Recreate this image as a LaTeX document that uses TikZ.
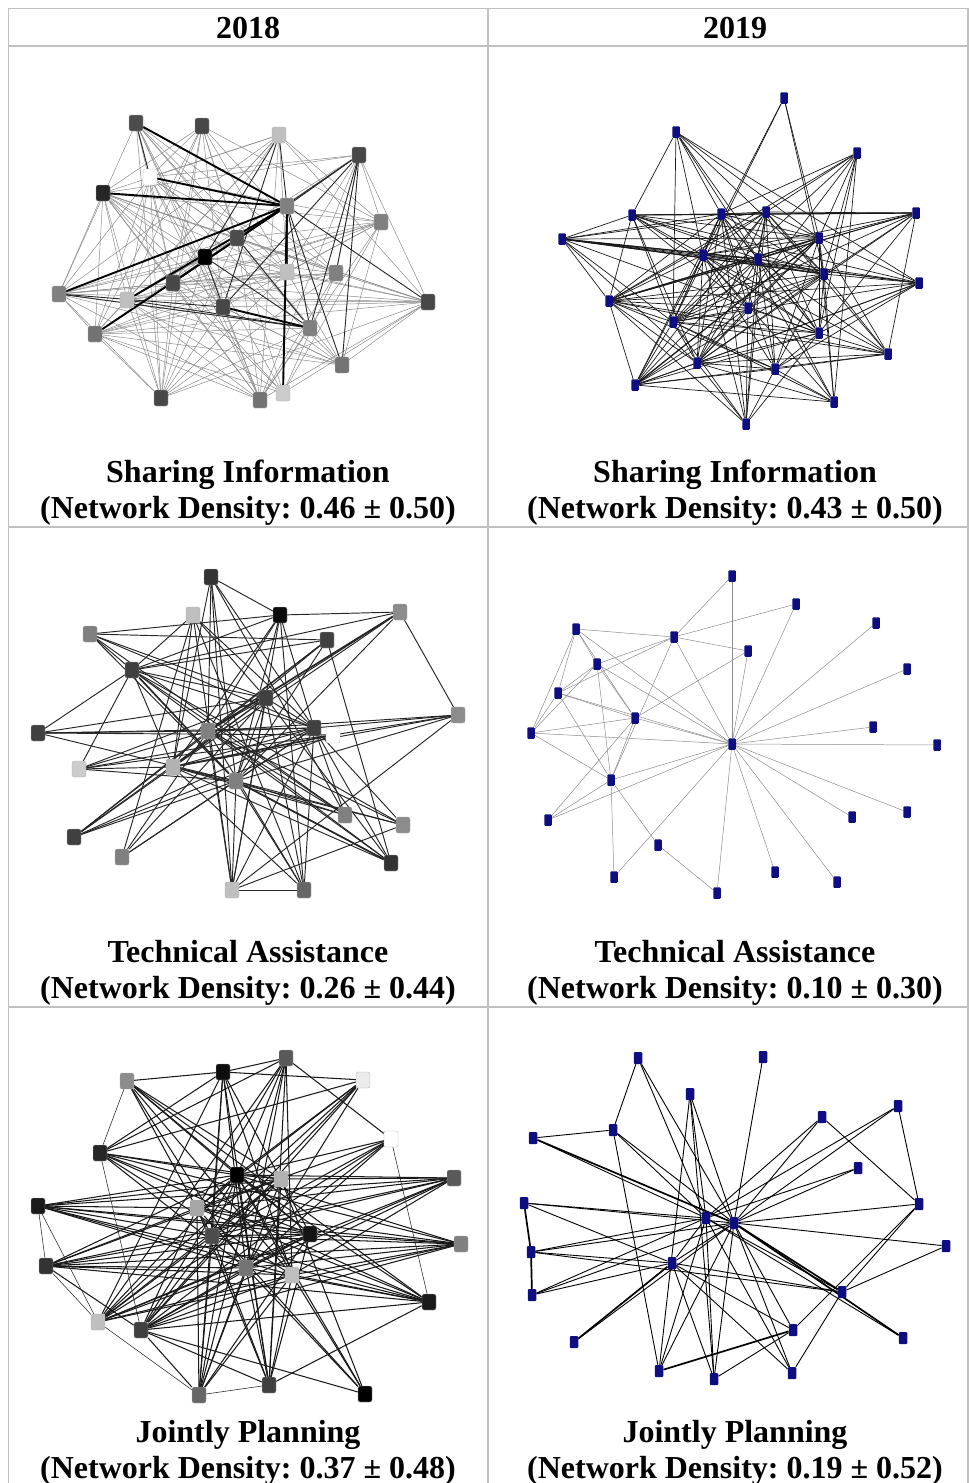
\documentclass[tikz,border=0pt]{standalone}
\usepackage{fontspec}
\setmainfont{Liberation Serif}
\frenchspacing
\definecolor{navyblue}{RGB}{14,14,128}
\definecolor{rulegray}{RGB}{192,192,192}
\pgfdeclarelayer{edges}
\pgfsetlayers{edges,main}
\tikzset{
  gnode/.style={rectangle, rounded corners=2pt, draw=black!30, line width=0.3pt,
    minimum width=14pt, minimum height=16pt, inner sep=0pt},
  bnode/.style={rectangle, rounded corners=1pt, fill=navyblue,
    minimum width=7.5pt, minimum height=11.5pt, inner sep=0pt},
  lite/.style={draw=black!45, line width=0.5pt},
  dark/.style={draw=black!85, line width=0.9pt},
  heavy/.style={draw=black, line width=1.9pt},
  blink/.style={draw=black!90, line width=0.7pt},
  glink/.style={draw=black!45, line width=0.5pt},
  head/.style={font=\bfseries\fontsize{32}{37}\selectfont, anchor=base, inner sep=0pt},
  rule/.style={draw=rulegray, line width=1.5pt}
}
\begin{document}
\begin{tikzpicture}[x=1pt, y=-1pt]
  \useasboundingbox (0,0) rectangle (969,1483);
  % table
  \draw[rule] (8.5,1483) -- (8.5,8.5) -- (968,8.5) -- (968,1483);
  \draw[rule] (8.5,46) -- (968,46);
  \draw[rule] (8.5,527) -- (968,527);
  \draw[rule] (8.5,1007) -- (968,1007);
  \draw[rule] (488,8.5) -- (488,1483);
  \node[head] (y18) at (248,38) {2018};
  \node[head] (y19) at (735,38) {2019};
  \node[head] (si18) at (248,482) {Sharing Information};
  \node[head] (sd18) at (248,518) {(Network Density: 0.46 ± 0.50)};
  \node[head] (si19) at (735,482) {Sharing Information};
  \node[head] (sd19) at (735,518) {(Network Density: 0.43 ± 0.50)};
  \node[head] (ta18) at (248,962) {Technical Assistance};
  \node[head] (td18) at (248,998) {(Network Density: 0.26 ± 0.44)};
  \node[head] (ta19) at (735,962) {Technical Assistance};
  \node[head] (td19) at (735,998) {(Network Density: 0.10 ± 0.30)};
  \node[head] (jp18) at (248,1442) {Jointly Planning};
  \node[head] (jd18) at (248,1478) {(Network Density: 0.37 ± 0.48)};
  \node[head] (jp19) at (735,1442) {Jointly Planning};
  \node[head] (jd19) at (735,1478) {(Network Density: 0.19 ± 0.52)};

  % 2018 sharing information
  \foreach \n/\x/\y/\g in {1/136/123/70, 2/202/126/72, 3/279/135/25, 4/359/155/72,
      5/150/177/0, 6/103/193/85, 7/287/206/50, 8/381/222/50, 9/237/238/70,
      10/205/257/100, 11/287/272/25, 12/336/273/50, 13/173/283/72, 14/59/294/50,
      15/127/300/25, 16/223/307/72, 17/428/302/72, 18/310/328/50, 19/95/334/55,
      20/342/365/55, 21/161/398/72, 22/260/400/55, 23/283/393/20}
    \node[gnode, fill=black!\g] (a\n) at (\x,\y) {};
  \begin{pgfonlayer}{edges}
    \foreach \s/\tl in {1/{5,9,10,11,12,13,14,16,18,21,22}, 2/{5,6,8,9,11,12,13,15,16,19,21,23},
        3/{5,6,8,11,13,14,15,17,19,22}, 4/{5,6,8,9,11,12,15,17,19,22},
        5/{8,9,11,12,13,14,15,16,19,20,21,22}, 6/{8,9,10,11,12,13,14,15,16,17,19,20,21,22,23},
        8/{9,11,13,14,15,16,19,20,22,23}, 9/{12,13,14,15,17,19,20,21,22},
        10/{12,14,15,17,19,21,22,23}, 11/{13,14,15,17,19,20,21}, 12/{13,14,15,17,19,21,22,23},
        13/{14,17,20,21,22,23}, 14/{17,18,19,20,21,22}, 15/{17,19,20,21,22,23},
        16/{17,19,20,21,22}, 17/{19,20,21,22,23}, 18/{19,21,22}, 19/{20,21,22,23}}
      \foreach \t in \tl \draw[lite] (a\s) -- (a\t);
    \foreach \s/\tl in {4/{7,16,18,20,13,12}, 3/{7,16,10}, 10/{16,18}, 9/{18},
        7/{18,20,11,13,17}, 15/{18}, 14/{16,18}, 1/{5}}
      \foreach \t in \tl \draw[dark] (a\s) -- (a\t);
    \foreach \s/\tl in {7/{14,19,15,23,1,6,5}, 16/{18}}
      \foreach \t in \tl \draw[heavy] (a\s) -- (a\t);
  \end{pgfonlayer}

  % 2019 sharing information
  \foreach \n/\x/\y in {1/784/98, 2/676/132, 3/857/153, 4/632/215, 5/721/214, 6/766/212,
      7/916/213, 8/562/239, 9/819/238, 10/703/255, 11/758/259, 12/824/274, 13/919/283,
      14/609/301, 15/748/308, 16/673/322, 17/819/333, 18/888/354, 19/697/363,
      20/775/369, 21/635/385, 22/834/402, 23/746/424}
    \node[bnode] (b\n) at (\x,\y) {};
  \begin{pgfonlayer}{edges}
    \foreach \s/\tl in {1/{10,16,9,12}, 2/{4,16,5,10,11,9,12,17,13}, 3/{5,6,14,16,19,9,12,17,22},
        4/{5,8,9,10,11,12,13,14,16,17,19,15}, 5/{6,7,8,9,10,11,12,14,15,16,17,19,20,21,22,23},
        6/{7,8,9,10,11,12,14,15,16,17,18,19,20,21,23}, 7/{9,10,11,12,14,16,17,18,19},
        8/{9,10,11,12,14,16,19,13,17}, 9/{10,11,12,14,15,16,17,19,20,21,22,13,18},
        10/{11,12,13,14,15,16,17,18,19,20,21,22,23}, 11/{12,13,14,16,17,18,19,20,21,22,23},
        12/{14,15,16,17,18,19,20,21,22,13}, 13/{14,16,17,19,20,21}, 14/{15,16,17,18,19,20,21,23},
        15/{16,17,19,21,23}, 16/{17,18,19,20,21,22,23}, 17/{18,19,20,21,23}, 18/{19,20,21},
        19/{20,21,22,23}, 20/{21,22,23}, 21/{22}}
      \foreach \t in \tl \draw[blink] (b\s) -- (b\t);
    \foreach \s/\tl in {4/{7}, 8/{11,12}, 14/{9}, 21/{9}}
      \foreach \t in \tl \draw[blink, line width=1.2pt] (b\s) -- (b\t);
  \end{pgfonlayer}

  % 2018 technical assistance
  \foreach \n/\x/\y/\g in {1/211/577/80, 2/193/615/25, 3/280/615/95, 4/400/612/45,
      5/90/634/50, 6/327/640/75, 7/132/670/75, 8/266/698/75, 9/458/715/45,
      10/38/733/75, 11/208/731/50, 12/314/728/75, 13/333/735/0, 14/79/769/20,
      15/173/767/30, 16/236/781/50, 17/345/815/50, 18/403/825/45, 19/74/837/75,
      20/122/857/50, 21/391/863/80, 22/232/890/25, 23/304/890/60}
    \node[gnode, fill=black!\g] (c\n) at (\x,\y) {};
  \begin{pgfonlayer}{edges}
    \foreach \s/\tl in {1/{3,11,15,16,22,12,17}, 2/{7,15,22,12,8,20,23}, 3/{4,5,7,11,15,16,22,23,12},
        4/{9,8,15,7,16}, 5/{7,8,12,17,16,6}, 6/{7,11,15,19,21,16},
        7/{8,10,12,14,17,18,21,15}, 8/{10,15,19,20,22,23,12,11,16,14,21},
        9/{11,12,13,15,16,22}, 10/{11,12,16,13}, 11/{12,14,19,20,17,18,21,23,22},
        12/{14,15,16,19,20,22,18,23,17,21}, 13/{14,19}, 14/{15,16},
        15/{16,17,18,21,19,23}, 16/{17,18,21,19,20,23,22}, 22/{23,18}}
      \foreach \t in \tl \draw[dark, line width=0.95pt] (c\s) -- (c\t);
    \foreach \s/\tl in {4/{11}, 7/{16}, 15/{13}, 16/{21}}
      \foreach \t in \tl \draw[dark, line width=1.7pt] (c\s) -- (c\t);
  \end{pgfonlayer}

  % 2019 technical assistance
  \foreach \n/\x/\y in {1/732/576, 2/796/604, 3/876/623, 4/576/629, 5/674/637, 6/748/651,
      7/907/669, 8/597/664, 9/558/693, 10/635/718, 11/873/727, 12/531/733, 13/732/744,
      14/937/745, 15/611/780, 16/548/820, 17/907/812, 18/852/817, 19/658/845,
      20/614/877, 21/775/872, 22/837/882, 23/717/893}
    \node[bnode] (d\n) at (\x,\y) {};
  \begin{pgfonlayer}{edges}
    \foreach \s/\tl in {13/{1,2,3,4,5,6,7,8,9,10,11,12,14,15,16,17,18,20,21,22,23},
        5/{1,2,6,4,8,9,15}, 4/{8,9,12,10}, 6/{10}, 8/{9,12,10,15}, 9/{12,10,15},
        10/{16,15}, 12/{10,15}, 15/{16,19,20}, 19/{23}}
      \foreach \t in \tl \draw[glink] (d\s) -- (d\t);
  \end{pgfonlayer}

  % 2018 jointly planning
  \foreach \n/\x/\y/\g in {1/286/1058/65, 2/223/1072/95, 3/127/1081/45, 4/363/1080/8,
      5/391/1139/0, 6/100/1153/85, 7/237/1175/100, 8/281/1179/30, 9/454/1178/65,
      10/38/1206/90, 11/197/1208/35, 12/212/1236/70, 13/310/1234/92, 14/461/1244/50,
      15/46/1266/80, 16/246/1268/55, 17/292/1275/25, 18/429/1302/90, 19/98/1322/25,
      20/141/1330/75, 21/199/1395/60, 22/269/1385/75, 23/365/1394/100}
    \node[gnode, fill=black!\g] (e\n) at (\x,\y) {};
  \begin{pgfonlayer}{edges}
    \foreach \s/\tl in {1/{2,5,6,11,12,16,17,19,21,22}, 2/{3,4,13,16,17,21,22,12,6,19},
        3/{7,13,16,17,18,12,8}, 4/{6,7,11,12,19,20,16}, 5/{7,11,12,19,20,16},
        6/{7,8,13,14,17,18,16}, 7/{9,10,14,15,18,19,20,21,22,23,17,13,8,11},
        8/{9,10,15,19,20,21,22,12,23}, 9/{10,11,12,15,16,17,19,20},
        10/{11,12,13,14,16,17,18}, 11/{13,14,15,18,20,21,22,23},
        12/{13,14,15,18,19,20,21,22}, 13/{14,15,16,19,20,21,22}, 14/{15,16,17,19,20},
        15/{16,17,18,20}, 16/{18,19,20,21,22,23}, 17/{18,19,20,21,22,23},
        18/{20,22}, 20/{21,22,23}}
      \foreach \t in \tl \draw[dark, draw=black!90, line width=1.05pt] (e\s) -- (e\t);
    \foreach \s/\tl in {3/{6}, 6/{20}, 10/{15,19}, 15/{19}, 5/{18}, 19/{21}, 21/{22}}
      \foreach \t in \tl \draw[dark, line width=0.55pt] (e\s) -- (e\t);
  \end{pgfonlayer}

  % 2019 jointly planning
  \foreach \n/\x/\y in {1/638/1058, 2/763/1057, 3/690/1094, 4/898/1106, 5/822/1117,
      6/533/1138, 7/613/1130, 8/858/1168, 9/524/1203, 10/919/1204, 11/706/1218,
      12/734/1223, 13/531/1252, 14/946/1246, 15/672/1263, 16/532/1295, 17/842/1292,
      18/793/1330, 19/903/1338, 20/574/1342, 21/659/1371, 22/714/1379, 23/792/1373}
    \node[bnode, minimum width=8.5pt, minimum height=12pt] (f\n) at (\x,\y) {};
  \begin{pgfonlayer}{edges}
    \foreach \s/\tl in {12/{1,2,3,4,5,7,8,9,10,13,14,16,18,20,21,22,23,15},
        11/{1,3,4,5,8,6,7,9,13,16,17,21,22,23,15,19}, 15/{9,13,16,18,17,22,23},
        6/{7}, 1/{7}, 5/{10}, 4/{10}, 10/{17,18}, 14/{17}, 17/{23}, 3/{21,22}, 22/{18},
        7/{21}, 13/{17}}
      \foreach \t in \tl \draw[blink, draw=black, line width=0.9pt] (f\s) -- (f\t);
    \foreach \s/\tl in {9/{13}, 13/{16}, 21/{18}, 12/{6,19,17}, 15/{20}}
      \foreach \t in \tl \draw[blink, draw=black, line width=1.7pt] (f\s) -- (f\t);
  \end{pgfonlayer}
\end{tikzpicture}
\end{document}
